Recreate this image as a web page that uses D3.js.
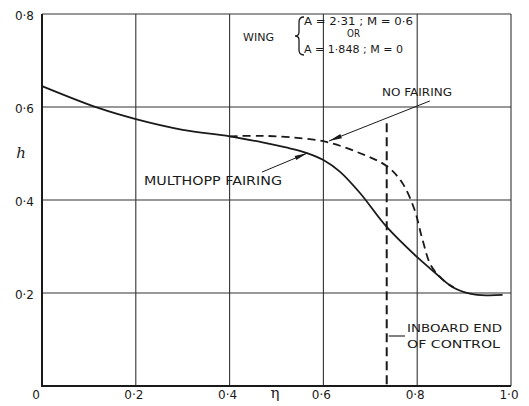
<!DOCTYPE html>
<html><head><meta charset="utf-8">
<script src="https://cdn.jsdelivr.net/npm/d3@7/dist/d3.min.js"></script>
<style>html,body{margin:0;padding:0;background:#fff}svg{display:block}</style>
</head><body>
<script>
// ---- data ----
const xTicks = [0, 0.2, 0.4, 0.6, 0.8, 1.0];
const xTickLabels = ["0", "0·2", "0·4", "0·6", "0·8", "1·0"];
const yTicks = [0.2, 0.4, 0.6, 0.8];
const yTickLabels = ["0·2", "0·4", "0·6", "0·8"];

const etaMulthopp = [0, 0.12, 0.2, 0.3, 0.4, 0.47, 0.52, 0.565, 0.6, 0.635, 0.678, 0.735, 0.8, 0.832, 0.875, 0.915, 0.95, 0.982];
const hMulthopp   = [0.645, 0.598, 0.574, 0.551, 0.537, 0.524, 0.513, 0.501, 0.486, 0.461, 0.415, 0.342, 0.277, 0.249, 0.213, 0.198, 0.195, 0.196];

const etaNoFairing = [0.40, 0.464, 0.53, 0.606, 0.677, 0.735, 0.768, 0.794, 0.811, 0.83, 0.862, 0.878];
const hNoFairing   = [0.537, 0.538, 0.535, 0.525, 0.501, 0.473, 0.437, 0.38, 0.316, 0.258, 0.222, 0.212];

const controlEta = 0.735;
const controlTop = 0.565;

// ---- layout ----
const W = 529, H = 406;
const x = d3.scaleLinear().domain([0, 1]).range([42, 511]);
const y = d3.scaleLinear().domain([0, 0.8]).range([386, 14]);

const svg = d3.select("body").append("svg").attr("width", W).attr("height", H);
const ink = "#1a1a1a";
const font = "'DejaVu Sans', sans-serif";

// grid
const g = svg.append("g");
g.selectAll(".vg").data(xTicks.slice(1)).join("line")
  .attr("x1", d => x(d)).attr("x2", d => x(d)).attr("y1", y(0)).attr("y2", y(0.8))
  .attr("stroke", "#333").attr("stroke-width", 1.1);
g.selectAll(".hg").data(yTicks).join("line")
  .attr("x1", x(0)).attr("x2", x(1)).attr("y1", d => y(d)).attr("y2", d => y(d))
  .attr("stroke", "#333").attr("stroke-width", 1.1);
// axes (heavier)
svg.append("line").attr("x1", x(0)).attr("x2", x(0)).attr("y1", y(0.8)).attr("y2", y(0)+1)
  .attr("stroke", ink).attr("stroke-width", 2);
svg.append("line").attr("x1", x(0)).attr("x2", x(1)).attr("y1", y(0)).attr("y2", y(0))
  .attr("stroke", ink).attr("stroke-width", 2);

// tick labels
svg.selectAll(".xl").data(xTicks).join("text")
  .attr("x", (d, i) => i === 0 ? x(d) - 6 : x(d) - 2).attr("y", 399)
  .attr("text-anchor", "middle").attr("font-family", font).attr("font-size", 12)
  .attr("fill", ink).text((d, i) => xTickLabels[i]);
svg.selectAll(".yl").data(yTicks).join("text")
  .attr("x", 34).attr("y", d => y(d) + 6)
  .attr("text-anchor", "end").attr("font-family", font).attr("font-size", 12)
  .attr("fill", ink).text((d, i) => yTickLabels[i]);

// axis titles
svg.append("text").attr("x", 275).attr("y", 398).attr("text-anchor", "middle")
  .attr("font-family", "'DejaVu Serif', serif").attr("font-size", 15).attr("fill", ink).text("η");
svg.append("text").attr("x", 21).attr("y", 158).attr("text-anchor", "middle")
  .attr("font-family", "'DejaVu Serif', serif").attr("font-style", "italic")
  .attr("font-size", 15).attr("fill", ink).text("h");

// curves
const line = d3.line().x(d => x(d[0])).y(d => y(d[1])).curve(d3.curveCatmullRom.alpha(0.5));
svg.append("path").datum(etaMulthopp.map((e, i) => [e, hMulthopp[i]]))
  .attr("d", line).attr("fill", "none").attr("stroke", ink).attr("stroke-width", 1.8);
svg.append("path").datum(etaNoFairing.map((e, i) => [e, hNoFairing[i]]))
  .attr("d", line).attr("fill", "none").attr("stroke", ink).attr("stroke-width", 1.8)
  .attr("stroke-dasharray", "8,5");

// inboard end of control
svg.append("line").attr("x1", x(controlEta)).attr("x2", x(controlEta))
  .attr("y1", y(controlTop)).attr("y2", y(0))
  .attr("stroke", ink).attr("stroke-width", 2).attr("stroke-dasharray", "9,5");

// annotations
function leader(e1, h1, e2, h2) {
  svg.append("line").attr("x1", x(e1)).attr("y1", y(h1)).attr("x2", x(e2)).attr("y2", y(h2))
    .attr("stroke", ink).attr("stroke-width", 1);
  const ang = Math.atan2(y(h2) - y(h1), x(e2) - x(e1));
  const L = 13, w = 2.2;
  const tx = x(e2), ty = y(h2);
  const bx = tx - L * Math.cos(ang), by = ty - L * Math.sin(ang);
  const px = -Math.sin(ang) * w, py = Math.cos(ang) * w;
  svg.append("path").attr("d", `M${tx},${ty}L${bx+px},${by+py}L${bx-px},${by-py}Z`).attr("fill", ink);
}
leader(0.827, 0.613, 0.612, 0.527);
leader(0.469, 0.46, 0.566, 0.501);

function label(txt, x0, yb, len, size) {
  svg.append("text").attr("x", x0).attr("y", yb).attr("font-family", font)
    .attr("font-size", size).attr("fill", ink)
    .attr("textLength", len).attr("lengthAdjust", "spacingAndGlyphs").text(txt);
}
label("NO FAIRING", 382, 96, 70, 11);
label("MULTHOPP FAIRING", 144, 185, 138, 12);
label("INBOARD END", 407, 332, 95, 11);
label("OF CONTROL", 407, 348, 93, 11);
label("WING", 243, 41, 31, 11);
label("A = 2·31 ; M = 0·6", 304, 25, 109, 11);
label("OR", 347, 37, 13, 10);
label("A = 1·848 ; M = 0", 304, 53, 99, 11);
// brace
svg.append("path").attr("d", "M304,17 Q299,17 299,22 L299,32 Q299,36 295,36 Q299,36 299,40 L299,50 Q299,55 304,55")
  .attr("fill", "none").attr("stroke", ink).attr("stroke-width", 1.3);
// inboard leader tick
svg.append("path").attr("d", `M${x(controlEta)+2},${336}L405,336`)
  .attr("stroke", ink).attr("stroke-width", 1.1).attr("fill", "none");
</script>
</body></html>
